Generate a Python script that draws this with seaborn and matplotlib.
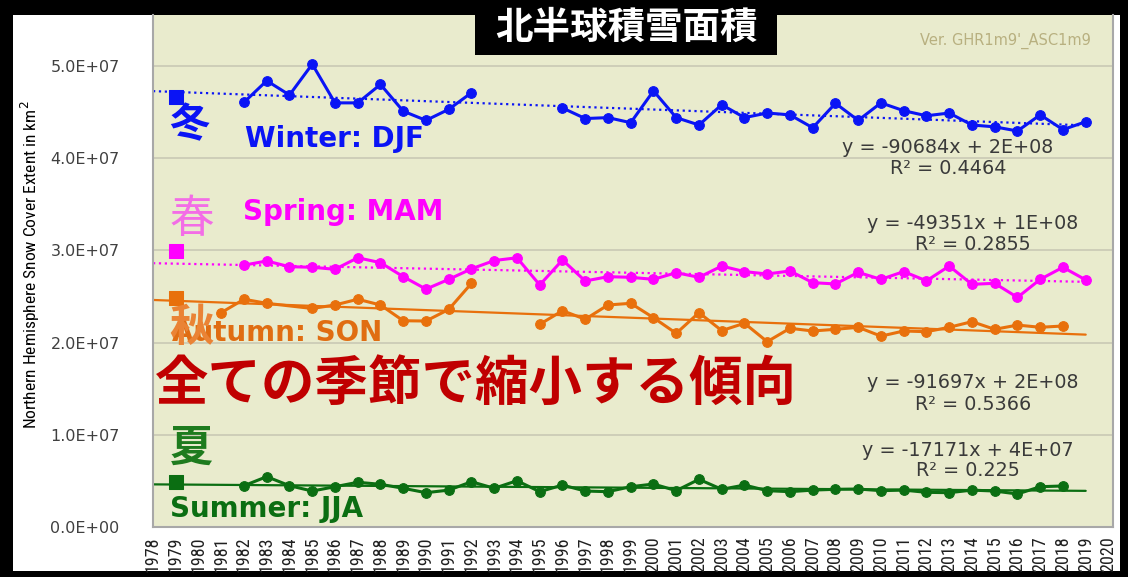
import numpy as np
import pandas as pd
import matplotlib
matplotlib.use("Agg")
import matplotlib.pyplot as plt
from matplotlib.patches import Rectangle
from matplotlib.ticker import FuncFormatter, MultipleLocator
from matplotlib import font_manager
import seaborn as sns

sns.set_theme(style="white")
plt.rcParams["font.family"] = ["DejaVu Sans", "Noto Sans CJK JP"]

# ---- data (km^2) ----
years = list(range(1978, 2021))

winter_years = [1982, 1983, 1984, 1985, 1986, 1987, 1988, 1989, 1990, 1991, 1992,
                1996, 1997, 1998, 1999, 2000, 2001, 2002, 2003, 2004, 2005, 2006,
                2007, 2008, 2009, 2010, 2011, 2012, 2013, 2014, 2015, 2016, 2017,
                2018, 2019]
winter = [4.606e7, 4.84e7, 4.685e7, 5.02e7, 4.60e7, 4.60e7, 4.80e7, 4.51e7, 4.41e7,
          4.53e7, 4.71e7,
          4.545e7, 4.43e7, 4.44e7, 4.385e7, 4.73e7, 4.44e7, 4.36e7, 4.58e7, 4.44e7,
          4.49e7, 4.47e7, 4.33e7, 4.595e7, 4.41e7, 4.60e7, 4.515e7, 4.46e7, 4.49e7,
          4.36e7, 4.34e7, 4.295e7, 4.47e7, 4.31e7, 4.395e7]

spring_years = list(range(1982, 2020))
spring = [2.84e7, 2.885e7, 2.823e7, 2.817e7, 2.795e7, 2.92e7, 2.867e7, 2.715e7,
          2.58e7, 2.686e7, 2.80e7, 2.89e7, 2.92e7, 2.625e7, 2.896e7, 2.668e7,
          2.715e7, 2.708e7, 2.686e7, 2.758e7, 2.708e7, 2.83e7, 2.77e7, 2.744e7,
          2.777e7, 2.65e7, 2.636e7, 2.762e7, 2.686e7, 2.77e7, 2.67e7, 2.83e7,
          2.632e7, 2.643e7, 2.49e7, 2.686e7, 2.817e7, 2.68e7]

autumn_years = [1981, 1982, 1983, 1985, 1986, 1987, 1988, 1989, 1990, 1991, 1992,
                1995, 1996, 1997, 1998, 1999, 2000, 2001, 2002, 2003, 2004, 2005,
                2006, 2007, 2008, 2009, 2010, 2011, 2012, 2013, 2014, 2015, 2016,
                2017, 2018]
autumn = [2.325e7, 2.47e7, 2.426e7, 2.37e7, 2.408e7, 2.47e7, 2.408e7, 2.237e7,
          2.234e7, 2.36e7, 2.643e7,
          2.198e7, 2.346e7, 2.253e7, 2.408e7, 2.426e7, 2.27e7, 2.10e7, 2.325e7,
          2.13e7, 2.21e7, 2.01e7, 2.155e7, 2.126e7, 2.144e7, 2.166e7, 2.07e7,
          2.126e7, 2.118e7, 2.166e7, 2.227e7, 2.144e7, 2.19e7, 2.166e7, 2.18e7]

summer_years = list(range(1982, 2019))
summer = [0.448e7, 0.546e7, 0.448e7, 0.39e7, 0.437e7, 0.485e7, 0.463e7, 0.42e7,
          0.372e7, 0.40e7, 0.491e7, 0.42e7, 0.502e7, 0.383e7, 0.455e7, 0.39e7,
          0.383e7, 0.437e7, 0.466e7, 0.394e7, 0.517e7, 0.409e7, 0.455e7, 0.394e7,
          0.383e7, 0.40e7, 0.409e7, 0.412e7, 0.394e7, 0.40e7, 0.376e7, 0.372e7,
          0.40e7, 0.39e7, 0.358e7, 0.437e7, 0.445e7]

# 1979 reference values (square markers)
ref_1979 = {"winter": 4.667e7, "spring": 2.99e7, "autumn": 2.48e7, "summer": 0.491e7}

# trend slopes per year and R^2 as stated in the equations
slopes = {"winter": -90684, "spring": -49351, "autumn": -91697, "summer": -17171}
intercept_text = {"winter": "2E+08", "spring": "1E+08", "autumn": "2E+08", "summer": "4E+07"}
r2 = {"winter": "0.4464", "spring": "0.2855", "autumn": "0.5366", "summer": "0.225"}

colors = {"winter": "#0a14f5", "spring": "#ff00ff", "autumn": "#e8700c", "summer": "#0b6e12"}
trend_style = {"winter": ":", "spring": ":", "autumn": "-", "summer": "-"}

series = {
    "winter": (winter_years, winter),
    "spring": (spring_years, spring),
    "autumn": (autumn_years, autumn),
    "summer": (summer_years, summer),
}

# narrow face for axis text when one is installed
installed = {f.name for f in font_manager.fontManager.ttflist}
narrow = None
for cand in ["Liberation Sans Narrow", "DejaVu Sans Condensed", "Roboto Condensed",
             "Open Sans Condensed"]:
    if cand in installed:
        narrow = cand
        break
narrow_family = [narrow] if narrow else ["DejaVu Sans"]

W, H = 1128, 577
fig = plt.figure(figsize=(W / 100, H / 100), dpi=100, facecolor="black")


def fx(px):
    return px / W


def fy(py):
    return 1 - py / H


# white chart panel inside the black frame
fig.patches.append(Rectangle((fx(13), fy(571)), fx(1120) - fx(13), fy(15) - fy(571),
                             transform=fig.transFigure, facecolor="white",
                             edgecolor="none", zorder=-5))

ax = fig.add_axes([fx(153), fy(527), fx(1113) - fx(153), fy(15) - fy(527)])
ax.set_zorder(1)
ax.set_facecolor("#e9ebcd")
ax.set_xlim(1978, 2020.2)
ax.set_ylim(0, 5.553e7)


def segments(xs, ys):
    """Split a series where more than one year in a row is missing."""
    out, cur = [], [(xs[0], ys[0])]
    for x, y in zip(xs[1:], ys[1:]):
        if x - cur[-1][0] > 2:
            out.append(cur)
            cur = []
        cur.append((x, y))
    out.append(cur)
    return out


for name, (xs, ys) in series.items():
    c = colors[name]
    # trend line, least-squares placement with the stated slope
    allx = np.array([1979] + list(xs), dtype=float)
    ally = np.array([ref_1979[name]] + list(ys), dtype=float)
    b = ally.mean() - slopes[name] * allx.mean()
    tx = np.array([1978, 2019], dtype=float)
    tdf = pd.DataFrame({"year": tx, "val": slopes[name] * tx + b})
    sns.lineplot(data=tdf, x="year", y="val", ax=ax, color=c,
                 linestyle=trend_style[name], linewidth=1.6, zorder=2)
    for seg in segments(xs, ys):
        df = pd.DataFrame(seg, columns=["year", "val"])
        sns.lineplot(data=df, x="year", y="val", ax=ax, color=c, linewidth=2.2,
                     marker="o", markersize=7, markeredgecolor=c, zorder=3)
    sdf = pd.DataFrame({"year": [1979], "val": [ref_1979[name]]})
    sns.scatterplot(data=sdf, x="year", y="val", ax=ax, color=c, marker="s",
                    s=90, edgecolor=c, zorder=4)

# axes styling
ax.yaxis.set_major_locator(MultipleLocator(1e7))
ax.yaxis.set_major_formatter(FuncFormatter(lambda v, p: f"{v:.1E}"))
ax.set_xticks(years)
ax.tick_params(axis="y", which="major", direction="out", length=10, color="#999999",
               pad=14, labelsize=11.5, labelcolor="#404040")
ax.tick_params(axis="x", which="major", direction="out", length=6, color="#999999",
               pad=1)
ax.set_xticklabels([str(y) for y in years], rotation=90,
                   family=narrow_family, fontsize=13, color="#202020")
ax.grid(axis="y", color="#c9c9b4", linewidth=1.2)
ax.grid(axis="x", visible=False)
for side, sp in ax.spines.items():
    sp.set_color("#a8a8a8")
    sp.set_linewidth(1.5)
ax.spines["top"].set_visible(False)
ax.set_xlabel("")
ax.set_ylabel("")

fig.text(fx(30), fy(265), "Northern Hemisphere Snow Cover Extent in km$^2$",
         rotation=90, ha="center", va="center",
         fontsize=12.5 if narrow else 10, family=narrow_family, color="black")

# title box
fig.patches.append(Rectangle((fx(475), fy(55)), fx(777) - fx(475), fy(0) - fy(55),
                             transform=fig.transFigure, facecolor="black",
                             edgecolor="none", zorder=5))
fig.text(fx(626), fy(27), "北半球積雪面積", ha="center", va="center", fontsize=27,
         color="white", fontweight="bold", family=["Noto Sans CJK JP"], zorder=6)
fig.text(fx(1005), fy(41), "Ver. GHR1m9'_ASC1m9", ha="center", va="center",
         fontsize=10.5, color="#b8b080", zorder=6)

# season labels
cjk = ["Noto Sans CJK JP"]
labels = [
    (189, 126, "冬", "center", 29, "#0a14f5", "bold", cjk),
    (245, 139, "Winter: DJF", "left", 20, "#0a14f5", "bold", None),
    (192, 219, "春", "center", 32, "#f36de6", "normal", cjk),
    (243, 212, "Spring: MAM", "left", 20, "#ff00ff", "bold", None),
    (172, 333, "Autumn: SON", "left", 20, "#e06d12", "bold", None),
    (192, 328, "秋", "center", 32, "#ea8335", "bold", cjk),
    (191, 448, "夏", "center", 31, "#1e7b1e", "bold", cjk),
    (170, 509, "Summer: JJA", "left", 20, "#0b6e12", "bold", None),
]
for px, py, s, ha, fs, col, fw, fam in labels:
    kw = {"family": fam} if fam else {}
    fig.text(fx(px), fy(py), s, ha=ha, va="center", fontsize=fs, color=col,
             fontweight=fw, zorder=6, **kw)

fig.text(fx(476), fy(384), "全ての季節で縮小する傾向", ha="center", va="center",
         fontsize=38.5, color="#c00000", fontweight="bold", family=cjk, zorder=6)

# trend equations
eq_pos = {"winter": (948, 147, 168), "spring": (973, 223, 244),
          "autumn": (973, 383, 405), "summer": (968, 450, 471)}
for name, (cx, y1, y2) in eq_pos.items():
    fig.text(fx(cx), fy(y1), f"y = {slopes[name]}x + {intercept_text[name]}",
             ha="center", va="center", fontsize=13.8, color="#3a3a3a", zorder=6)
    fig.text(fx(cx), fy(y2), f"R² = {r2[name]}", ha="center", va="center",
             fontsize=13.8, color="#3a3a3a", zorder=6)

fig.savefig("out.png", dpi=100, facecolor=fig.get_facecolor())
